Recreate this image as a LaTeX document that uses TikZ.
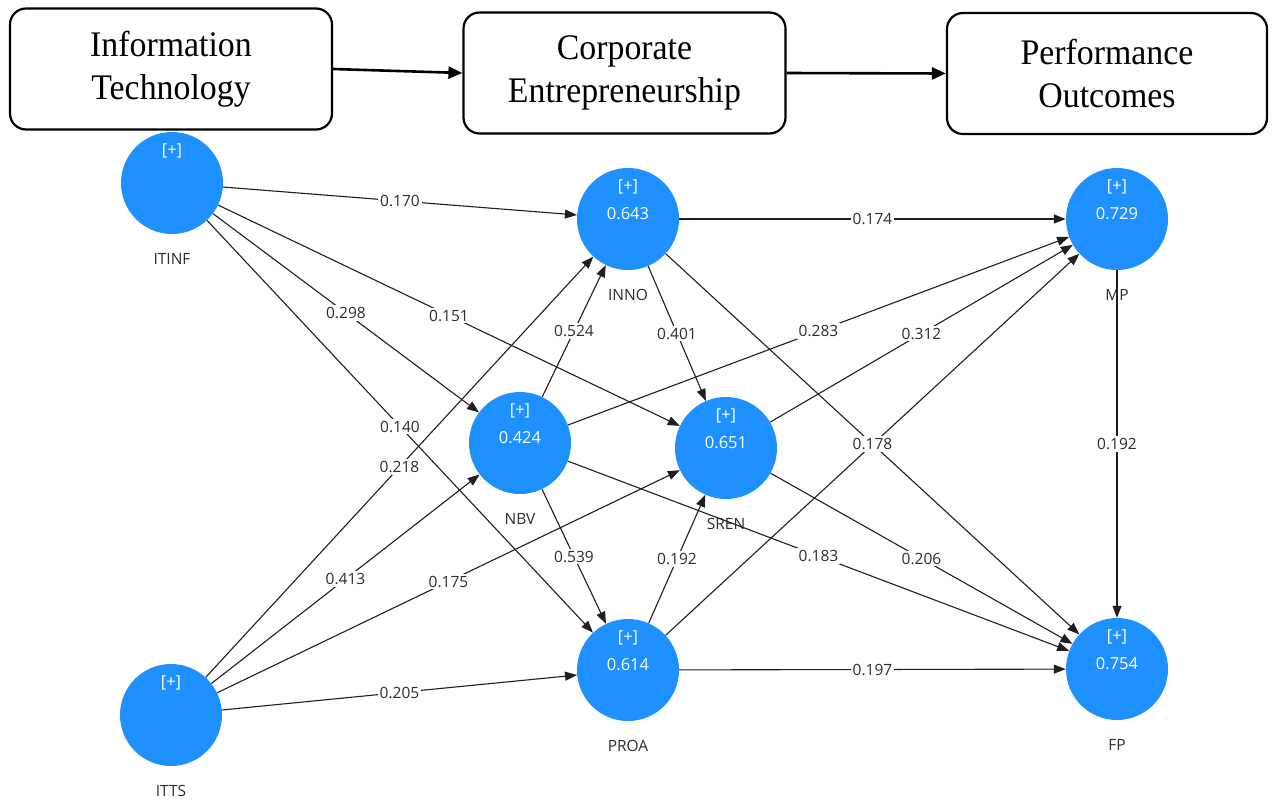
\documentclass[tikz,border=0pt]{standalone}
\usepackage{fontspec}
\setmainfont{Liberation Serif}
\newfontfamily\stagefont[FakeStretch=0.94]{Liberation Serif}
\newfontfamily\uifont{Open Sans}
\usetikzlibrary{arrows.meta}
\definecolor{lvblue}{RGB}{30,144,255}
\definecolor{txtgray}{RGB}{45,45,45}

% latent variable: circle, "[+]" marker, optional R^2 value, name below
\newcommand\latentvar[5]{%
  \node[lv] (#1) at (#2,#3) {};
  \node[plus] (#1-p) at ([yshift=32pt]#1.center) {[+]};
  \if\relax\detokenize{#4}\relax\else
    \node[plus] (#1-v) at ([yshift=5pt]#1.center) {#4};
  \fi
  \node[lvname] (#1-n) at ([yshift=-76pt]#1.center) {#5};
}

\begin{document}
\begin{tikzpicture}[x=1pt,y=-1pt,
  stage/.style={draw,line width=2.2pt,rounded corners=16pt,
    minimum width=322pt,minimum height=121pt,align=center,
    font=\stagefont\fontsize{36}{43}\selectfont},
  flow/.style={line width=2.6pt,-{Triangle[length=14pt,width=12pt]}},
  lv/.style={circle,fill=lvblue,minimum size=102pt,inner sep=0pt},
  plus/.style={text=white,inner sep=0pt,font=\uifont\fontsize{16.5}{16}\selectfont},
  lvname/.style={text=txtgray,inner sep=0pt,font=\uifont\fontsize{15.5}{16}\selectfont},
  rel/.style={draw=black!88,line width=1.1pt,-{Triangle[length=12pt,width=9pt]}},
  wt/.style={fill=white,inner sep=2pt,text=txtgray,font=\uifont\fontsize{15.5}{16}\selectfont}
]
\useasboundingbox (0,0) rectangle (1272,801);

% stage boxes along the top
\node[stage] (it) at (171,69) {Information\\Technology};
\node[stage] (ce) at (624.5,73) {Corporate\\Entrepreneurship};
\node[stage,minimum width=320pt] (po) at (1107,73.5) {Performance\\Outcomes};
\draw[flow] (it.east) -- (ce.west);
\draw[flow] (ce.east) -- (po.west);

% latent variables
\latentvar{itinf}{172}{183}{}{ITINF}
\latentvar{itts}{171}{715}{}{ITTS}
\latentvar{inno}{628}{219}{0.643}{INNO}
\latentvar{nbv}{520}{443}{0.424}{NBV}
\latentvar{sren}{726}{448}{0.651}{SREN}
\latentvar{proa}{628}{670}{0.614}{PROA}
\latentvar{mp}{1117}{219}{0.729}{MP}
\latentvar{fp}{1117}{669}{0.754}{FP}

% structural paths
\foreach \a/\b in {itinf/inno,itinf/nbv,itinf/sren,itinf/proa,
                   itts/inno,itts/nbv,itts/sren,itts/proa,
                   nbv/inno,nbv/proa,nbv/mp,nbv/fp,
                   inno/sren,inno/mp,inno/fp,
                   proa/sren,proa/mp,proa/fp,
                   sren/mp,sren/fp,mp/fp}
  \draw[rel] (\a) -- (\b);

% path coefficients, on top of all lines
\foreach \a/\b/\w in {itinf/inno/0.170,itinf/nbv/0.298,itinf/sren/0.151,itinf/proa/0.140,
                      itts/inno/0.218,itts/nbv/0.413,itts/sren/0.175,itts/proa/0.205,
                      nbv/inno/0.524,nbv/proa/0.539,nbv/mp/0.283,nbv/fp/0.183,
                      inno/sren/0.401,inno/mp/0.174,inno/fp/0.178,
                      proa/sren/0.192,proa/fp/0.197,
                      sren/mp/0.312,sren/fp/0.206,mp/fp/0.192}
  \path (\a) -- node[wt] {\w} (\b);
\end{tikzpicture}
\end{document}
